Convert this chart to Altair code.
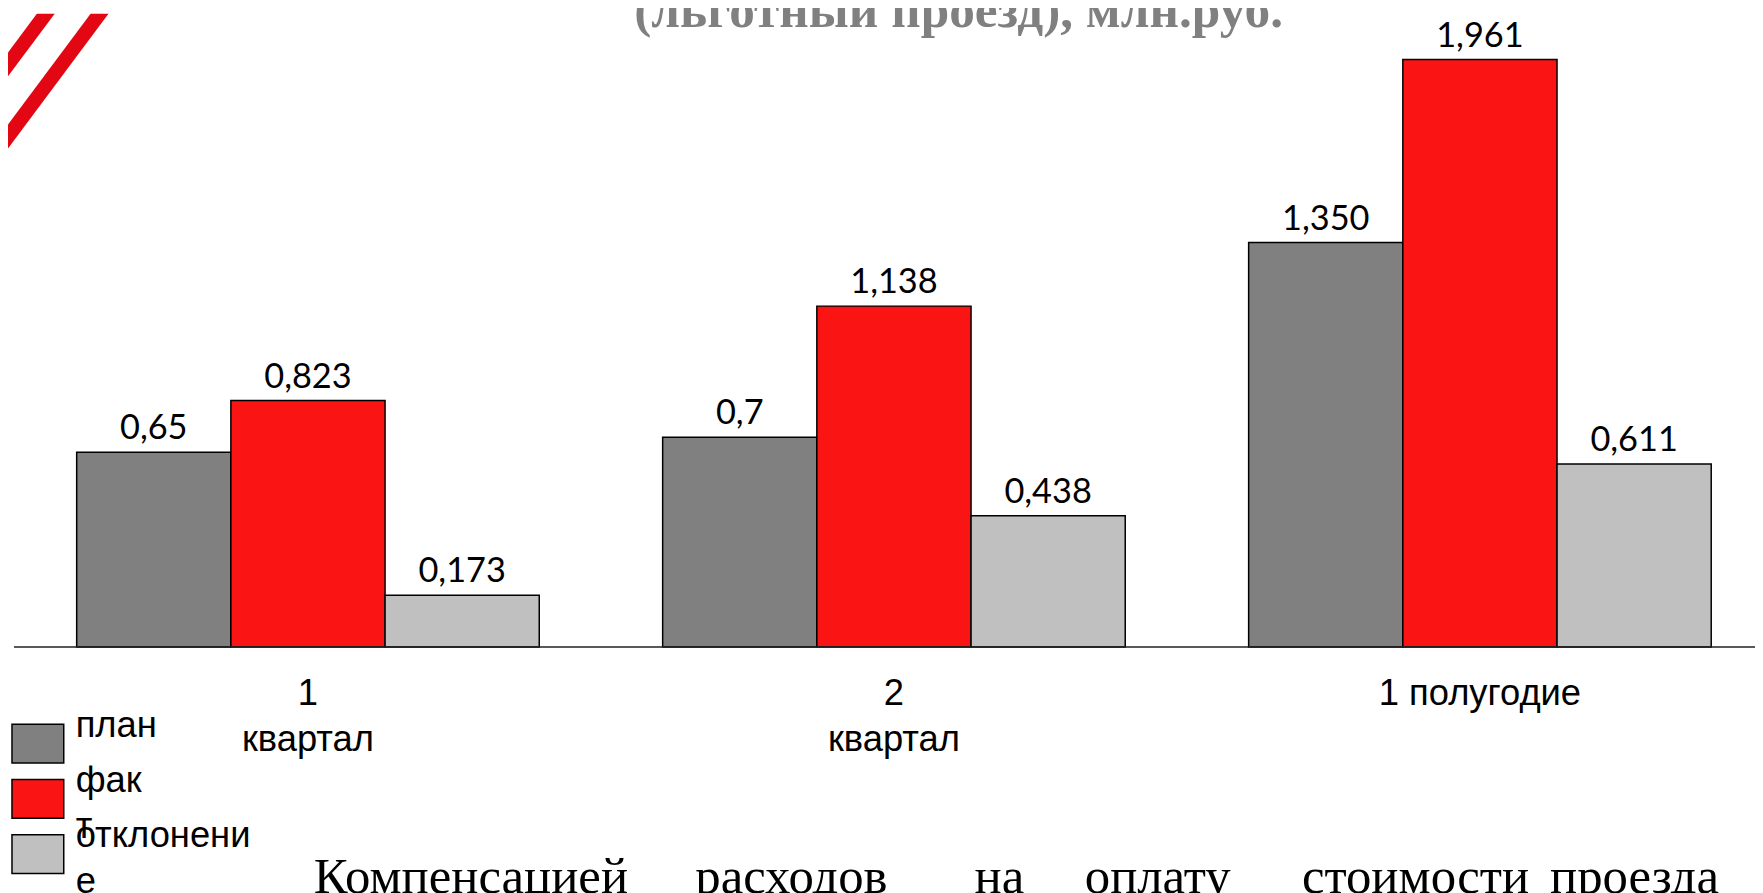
import altair as alt
import pandas as pd

# ---- data ----
categories = ["1 квартал", "2 квартал", "1 полугодие"]
category_labels = ["1\nквартал", "2\nквартал", "1 полугодие"]
series = ["план", "факт", "отклонение"]
legend_labels = ["план", "фак\nт", "отклонени\nе"]
plan = [0.65, 0.7, 1.350]
fact = [0.823, 1.138, 1.961]
deviation = [0.173, 0.438, 0.611]
plan_text = ["0,65", "0,7", "1,350"]
fact_text = ["0,823", "1,138", "1,961"]
deviation_text = ["0,173", "0,438", "0,611"]
colors = ["#808080", "#FA1414", "#C0C0C0"]
title_line = "(льготный проезд), млн.руб."
bottom_words = ["Компенсацией", "расходов", "на", "оплату", "стоимости", "проезда"]

rows = []
for s, vals, txts in zip(series, [plan, fact, deviation], [plan_text, fact_text, deviation_text]):
    for c, v, t in zip(categories, vals, txts):
        rows.append({"category": c, "series": s, "value": v, "label": t})
df = pd.DataFrame(rows)
cat_df = pd.DataFrame({"category": categories, "clabel": category_labels})
leg_df = pd.DataFrame({"series": series, "llabel": legend_labels})
one = pd.DataFrame({"k": [0]})

W, H = 1755, 885

xscale = alt.Scale(domain=categories, range=[7, 1773], paddingInner=0.2106, paddingOuter=0.1053)
yscale = alt.Scale(domain=[0, 640 / 301], range=[640, 0], nice=False, zero=True)
cscale = alt.Scale(domain=series, range=colors)

X = alt.X("category:N", scale=xscale, axis=None, sort=categories)
XO = alt.XOffset("series:N", scale=alt.Scale(domain=series, paddingInner=0, paddingOuter=0), sort=series)
Y = alt.Y("value:Q", scale=yscale, axis=None)

bars = alt.Chart(df).mark_bar(stroke="black", strokeWidth=1.5, opacity=1).encode(
    x=X, xOffset=XO, y=Y, y2=alt.datum(0),
    color=alt.Color("series:N", scale=cscale, legend=None),
)
values = alt.Chart(df).mark_text(
    font="Lato", fontSize=34.5, color="black", baseline="alphabetic", align="center", dy=-13
).encode(x=X, xOffset=XO, y=Y, text="label:N")

baseline = alt.Chart(one).mark_rule(color="#222222", strokeWidth=1.5).encode(
    y=alt.Y("k:Q", scale=yscale, axis=None), x=alt.value(6), x2=alt.value(W)
)

xlabels = alt.Chart(cat_df).mark_text(
    font="Liberation Sans", fontSize=36.5, color="black", baseline="alphabetic",
    align="center", lineBreak="\n", lineHeight=46
).encode(x=alt.X("category:N", scale=xscale, axis=None, sort=categories),
         y=alt.value(698), text="clabel:N")

main = alt.layer(bars, values, baseline, xlabels)

# legend (manual, with wrapped labels)
lyscale = alt.Scale(type="point", domain=series, range=[737, 848], padding=0)
leg_sq = alt.Chart(leg_df).mark_point(
    shape="M-1,-0.75H1V0.75H-1Z", size=2704, filled=True, stroke="black",
    strokeWidth=1.5, opacity=1
).encode(
    x=alt.value(30),
    y=alt.Y("series:N", scale=lyscale, axis=None, sort=series),
    color=alt.Color("series:N", scale=cscale, legend=None),
)
leg_txt = alt.Chart(leg_df).mark_text(
    font="Liberation Sans", fontSize=36.5, color="black", align="left",
    baseline="alphabetic", dy=-7, lineBreak="\n", lineHeight=46
).encode(
    x=alt.value(68),
    y=alt.Y("series:N", scale=lyscale, axis=None, sort=series),
    text="llabel:N",
)
legend = alt.layer(leg_sq, leg_txt)

# decorations: red stripes, cut title line, bottom paragraph
stripe_color = "#E30613"
stripe1 = alt.Chart(one).mark_rule(color=stripe_color, strokeWidth=14.4, strokeCap="butt").encode(
    x=alt.value(48.2), y=alt.value(-10), x2=alt.value(-20), y2=alt.value(81.4))
stripe2 = alt.Chart(one).mark_rule(color=stripe_color, strokeWidth=14.4, strokeCap="butt").encode(
    x=alt.value(102.2), y=alt.value(-10), x2=alt.value(-20), y2=alt.value(153.8))
cover = alt.Chart(one).mark_rect(color="white").encode(
    x=alt.value(-10), x2=alt.value(140), y=alt.value(-10), y2=alt.value(3.7))

title = alt.Chart(one).mark_text(
    font="Liberation Serif", fontSize=51.5, fontWeight="bold", color="#808080",
    align="center", baseline="alphabetic"
).encode(x=alt.value(955), y=alt.value(17), text=alt.value(title_line))

word_center = [465, 787, 996, 1155, 1414, 1634]
words = [
    alt.Chart(one).mark_text(
        font="Liberation Serif", fontSize=51, color="black", align="center", baseline="alphabetic"
    ).encode(x=alt.value(xc), y=alt.value(887), text=alt.value(w))
    for w, xc in zip(bottom_words, word_center)
]

chart = alt.layer(
    stripe1, stripe2, cover, title, main, legend, *words
).resolve_scale(y="independent").properties(
    width=W, height=H, autosize="none", padding=0
).configure_view(stroke=None)

chart.save("out.html", embed_options={"renderer": "svg", "actions": False})
